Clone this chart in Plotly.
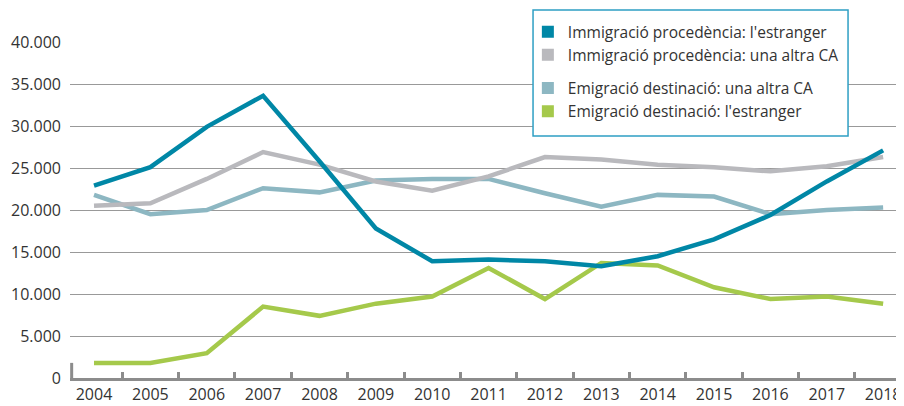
import plotly.graph_objects as go

years = ["2004", "2005", "2006", "2007", "2008", "2009", "2010", "2011",
         "2012", "2013", "2014", "2015", "2016", "2017", "2018"]

imm_estranger = [22900, 25100, 29900, 33600, 25800, 17800, 13900, 14100,
                 13900, 13300, 14500, 16500, 19400, 23400, 27100]
imm_altra_ca = [20500, 20800, 23700, 26900, 25400, 23400, 22300, 24000,
                26300, 26000, 25400, 25100, 24600, 25200, 26300]
emi_altra_ca = [21800, 19500, 20000, 22600, 22100, 23500, 23700, 23700,
                22000, 20400, 21800, 21600, 19500, 20000, 20300]
emi_estranger = [1800, 1800, 2950, 8500, 7400, 8850, 9700, 13100,
                 9400, 13700, 13400, 10800, 9400, 9700, 8850]

series = [
    ("Immigració procedència: l'estranger", imm_estranger, "#0087A6", "g1"),
    ("Immigració procedència: una altra CA", imm_altra_ca, "#B9B9BD", "g1"),
    ("Emigració destinació: una altra CA", emi_altra_ca, "#8DB7C2", "g2"),
    ("Emigració destinació: l'estranger", emi_estranger, "#A5C94B", "g2"),
]

fig = go.Figure()

# data lines (drawn bottom-to-top so the first series sits on top)
for name, vals, col, grp in reversed(series):
    fig.add_trace(go.Scatter(
        x=years, y=vals, mode="lines", name=name,
        line=dict(color=col, width=4.5), showlegend=False,
        hoverinfo="x+y+name"))

# legend entries with square swatches
for name, vals, col, grp in series:
    fig.add_trace(go.Scatter(
        x=[None], y=[None], mode="markers", name=name, legendgroup=grp,
        marker=dict(symbol="square", size=12, color=col), showlegend=True))

# the page body adds an 8px margin, so the figure is sized/offset to compensate
fig.update_layout(
    width=896, height=398,
    margin=dict(l=62, r=0, t=34, b=28, autoexpand=False),
    paper_bgcolor="white", plot_bgcolor="white",
    separators=",.",
    font=dict(family="Open Sans", size=16, color="#333333"),
    showlegend=True,
    legend=dict(
        x=0.549, y=1.080, xanchor="left", yanchor="top",
        bgcolor="rgba(0,0,0,0)", borderwidth=0,
        font=dict(family="Open Sans", size=15.5, color="#333333"),
        traceorder="grouped", tracegroupgap=10,
    ),
    xaxis=dict(
        type="category", range=[-0.426, 14.37], automargin=False,
        showgrid=False, zeroline=False,
        showline=True, linecolor="#8C8C8C", linewidth=3,
        ticks="inside", tickson="boundaries", ticklen=6, tickwidth=3,
        tickcolor="#8C8C8C",
        tickfont=dict(family="Open Sans", size=16, color="#333333"),
    ),
    yaxis=dict(
        range=[0, 40000], automargin=False,
        tickvals=[0, 5000, 10000, 15000, 20000, 25000, 30000, 35000, 40000],
        tickformat=",d", showgrid=True, gridcolor="#999999", gridwidth=1.2,
        zeroline=False, showline=False, ticks="",
        tickfont=dict(family="Open Sans", size=16, color="#333333"),
        ticklabelstandoff=8,
    ),
    shapes=[
        dict(type="line", xref="paper", yref="paper", x0=0.002, x1=0.002,
             y0=0, y1=0.045, line=dict(color="#8C8C8C", width=3)),
        dict(type="rect", xref="paper", yref="paper", x0=0.5552, x1=0.9329,
             y0=0.7202, y1=1.0952, fillcolor="white", layer="above",
             line=dict(color="#2E9FC4", width=1.5)),
    ],
)

fig.write_html("out.html")
